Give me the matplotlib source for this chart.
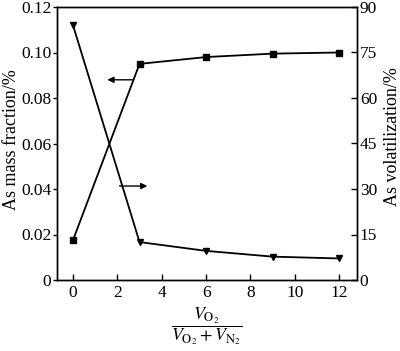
import matplotlib.pyplot as plt
import matplotlib as mpl

mpl.rcParams['font.family'] = ['Liberation Serif', 'DejaVu Serif']
mpl.rcParams['mathtext.fontset'] = 'stix'
mpl.rcParams['font.size'] = 12.5

# O2 / (O2 + N2) ratio
ratio = [0, 3, 6, 9, 12]
mass_fraction = [0.0175, 0.095, 0.098, 0.0995, 0.100]   # left axis, %
volatilization = [84.0, 12.5, 9.6, 7.7, 7.1]            # right axis, %

left_ticks = [0, 0.02, 0.04, 0.06, 0.08, 0.10, 0.12]
left_labels = ['0', '0.02', '0.04', '0.06', '0.08', '0.10', '0.12']
right_ticks = [0, 15, 30, 45, 60, 75, 90]
x_ticks = [0, 2, 4, 6, 8, 10, 12]

fig = plt.figure(figsize=(4.0, 3.51), dpi=100)
ax = fig.add_axes([57 / 400, 1 - 280 / 351, 300 / 400, 273 / 351])
ax2 = ax.twinx()

ax.plot(ratio, mass_fraction, color='black', lw=1.3, marker='s', ms=5)
ax2.plot(ratio, volatilization, color='black', lw=1.3, marker='v', ms=5)

ax.set_xlim(-0.72, 12.8)
ax.set_ylim(0, 0.12)
ax2.set_ylim(0, 90)

ax.set_xticks(x_ticks)
ax.set_yticks(left_ticks)
ax.set_yticklabels(left_labels)
ax2.set_yticks(right_ticks)

ax.tick_params(axis='x', direction='in', length=4, width=1, pad=3.5)
ax.tick_params(axis='y', direction='out', length=3, width=1, pad=1)
ax2.tick_params(axis='y', direction='in', length=4, width=1, pad=2)
for a in (ax, ax2):
    for s in a.spines.values():
        s.set_linewidth(1.0)

ax.set_ylabel('As mass fraction/%', fontsize=13)
ax.yaxis.set_label_coords(-0.123, 0.513)
ax2.set_ylabel('As volatilization/%', fontsize=13, rotation=90)
ax2.yaxis.set_label_coords(1.09, 0.527)
ax.set_xlabel(r'$\dfrac{V_{\mathrm{O_2}}}{V_{\mathrm{O_2}}+V_{\mathrm{N_2}}}$',
              fontsize=13)
ax.xaxis.set_label_coords(0.5, -0.092)
ax.xaxis.label.set_verticalalignment('top')

# arrows pointing to the axis each curve belongs to
ax.annotate('', xy=(1.55, 0.088), xytext=(2.7, 0.088),
            arrowprops=dict(arrowstyle='-|>', color='black', lw=1.0,
                            mutation_scale=9, shrinkA=0, shrinkB=0))
ax.annotate('', xy=(3.35, 0.0413), xytext=(2.1, 0.0413),
            arrowprops=dict(arrowstyle='-|>', color='black', lw=1.0,
                            mutation_scale=9, shrinkA=0, shrinkB=0))

fig.savefig('out.png', dpi=100)
